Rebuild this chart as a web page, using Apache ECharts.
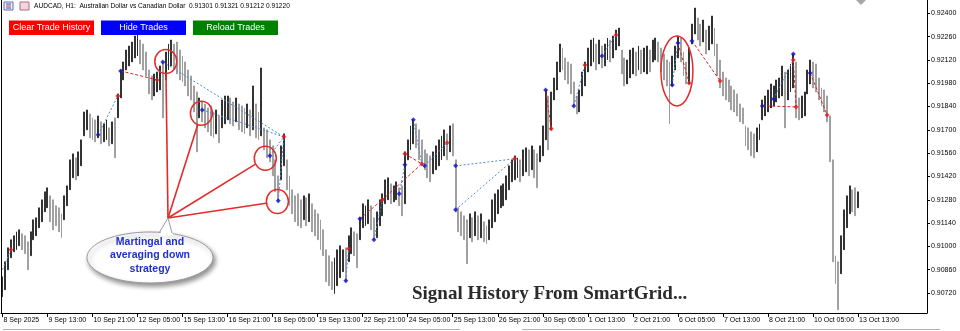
<!DOCTYPE html>
<html><head><meta charset="utf-8">
<script src="https://cdn.jsdelivr.net/npm/echarts@6/dist/echarts.min.js"></script>
<style>html,body{margin:0;padding:0;background:#fff;}#c{width:960px;height:331px;}</style>
</head><body><div id="c"></div>
<script>
// ---- DATA (prices in points: price = pts / 100000) ----
const tickLabels = ["8 Sep 2025","9 Sep 13:00","10 Sep 21:00","12 Sep 05:00","15 Sep 13:00","16 Sep 21:00","18 Sep 05:00","19 Sep 13:00","22 Sep 21:00","24 Sep 05:00","25 Sep 13:00","26 Sep 21:00","30 Sep 05:00","1 Oct 13:00","2 Oct 21:00","6 Oct 05:00","7 Oct 13:00","8 Oct 21:00","10 Oct 05:00","13 Oct 13:00"];
const priceTicks = [0.90720,0.90860,0.91000,0.91140,0.91280,0.91420,0.91560,0.91700,0.91840,0.91980,0.92120,0.92260,0.92400];
const barHigh = [
90818,90908,90992,91040,91064,91088,91100,91076,91064,91028,91088,91160,91172,91232,91280,91328,
91352,91304,91280,91244,91232,91196,91304,91364,91520,91556,91532,91568,91640,91808,91820,91796,
91772,91760,91784,91748,91736,91760,91712,91748,91772,91916,92060,92108,92180,92204,92228,92264,
92276,92240,92216,92168,92060,92024,92036,92048,92084,92108,92168,92216,92240,92216,92228,92180,
92144,92108,92060,92024,91964,91928,91892,91868,91856,91832,91844,91808,91820,91784,91880,91904,
91904,91892,91868,91892,91856,91844,91832,91856,91820,91964,91856,91808,92072,91712,91700,91640,
91604,91520,91424,91604,91676,91520,91424,91340,91304,91316,91280,91304,91292,91316,91256,91220,
91196,91160,91100,90980,90944,90908,90932,90980,91004,90980,90992,91064,91112,91088,91076,91172,
91256,91244,91280,91244,91172,91208,91280,91316,91400,91412,91376,91364,91388,91352,91364,91568,
91640,91724,91760,91736,91700,91640,91580,91556,91544,91568,91604,91640,91664,91700,91676,91724,
91736,91520,91232,91208,91184,91160,91196,91172,91208,91184,91196,91148,91124,91160,91280,91316,
91340,91364,91376,91424,91484,91520,91544,91532,91520,91580,91592,91580,91604,91580,91556,91604,
91724,91940,91904,91928,92012,92108,92216,92192,92132,92108,92096,91988,91904,91940,92048,92108,
92192,92240,92252,92216,92240,92204,92216,92252,92240,92264,92300,92312,92180,92132,92120,92180,
92192,92168,92204,92180,92192,92204,92180,92240,92252,92228,92192,92156,92120,92108,92144,92204,
92264,92252,92168,92108,92192,92336,92432,92372,92336,92360,92300,92324,92384,92312,92216,92120,
92048,92012,92000,91964,91940,91916,91856,91832,91724,91712,91688,91676,91712,91736,91880,91904,
91940,91976,91964,92000,92012,92084,92048,92060,92096,92156,92108,91892,91904,91928,92060,92120,
92108,92096,92012,91952,91940,91904,91784,91520,90944,90908,91064,91220,91304,91364,91340,91352,
91328];
const barLow = [
90698,90740,90860,90932,90968,90980,91004,90980,90956,90860,90944,91040,91064,91112,91148,91208,
91232,91148,91100,91124,91088,91052,91160,91244,91340,91412,91400,91424,91484,91664,91700,91652,
91640,91628,91652,91616,91628,91640,91604,91616,91532,91772,91892,92000,92060,92084,92108,92132,
92144,92096,92060,92024,91916,91880,91904,91928,91940,91772,92000,92060,92084,92072,92036,92000,
91988,91964,91904,91880,91808,91568,91772,91748,91712,91688,91664,91652,91676,91622,91712,91736,
91760,91736,91724,91748,91700,91688,91676,91712,91664,91700,91652,91640,91664,91580,91532,91508,
91424,91328,91268,91400,91484,91340,91244,91196,91148,91124,91112,91160,91124,91148,91088,91064,
91040,90980,90944,90788,90764,90740,90716,90764,90812,90848,90788,90908,90956,90944,90872,91040,
91112,91124,91136,91100,91040,91052,91124,91184,91256,91280,91256,91268,91280,91244,91184,91256,
91520,91580,91616,91592,91520,91484,91460,91412,91388,91436,91460,91484,91520,91544,91520,91568,
91544,91208,91088,91064,91040,90896,91052,91028,91064,91040,91052,91028,91016,91040,91112,91148,
91196,91232,91244,91280,91340,91388,91400,91412,91388,91424,91448,91424,91460,91412,91352,91508,
91544,91640,91580,91700,91880,91940,92048,92060,92000,91976,91916,91844,91796,91808,91904,91964,
92048,92084,92108,92060,92096,92072,92084,92120,92108,92132,92180,92204,92036,91964,91976,92012,
92036,92024,92060,92036,92048,92036,92048,92108,92120,92108,92048,92000,91964,91736,91964,92060,
92132,92108,92024,91976,91976,92216,92276,92240,92204,92228,92156,92180,92216,92144,92024,91952,
91904,91880,91868,91820,91808,91784,91748,91736,91604,91580,91544,91532,91568,91640,91760,91784,
91808,91832,91844,91868,91892,91904,91712,91880,91928,91952,91772,91760,91772,91784,91916,91976,
91952,91928,91880,91844,91808,91748,91508,90908,90776,90620,90836,90980,91112,91196,91208,91184,
91232];
// trade arrows: [bar index, price pts]
const buyMarks = [[34,91670],[42,92054],[57,92108],[71,91820],[95,91544],[98,91274],[122,90794],[127,91166],[132,91040],[141,91316],[143,91490],[146,91760],[150,91484],[161,91484],[161,91220],[193,91940],[203,91844],[213,92144],[238,91970],[240,92222],[245,92234],[270,91844],[274,91886],[281,92156],[287,92042]];
const sellMarks = [[3,90980],[41,91904],[55,92000],[100,91658],[123,90986],[135,91280],[143,91556],[149,91496],[158,91622],[182,91526],[195,91706],[207,92090],[218,92270],[244,91982],[255,91994],[281,92120],[282,91838],[293,91790]];
// trade links: [bar1, pts1, bar2, pts2, kind]  kind b = blue dotted, r = red dashed
const tradeLinks = [[0,90860,3,90980,'b'],[34,91670,41,91904,'b'],[42,92054,55,92000,'r'],[57,92108,100,91658,'b'],[71,91820,100,91658,'b'],[95,91544,100,91658,'b'],[98,91274,100,91658,'b'],[122,90794,123,90986,'b'],[127,91166,135,91280,'r'],[132,91040,135,91280,'b'],[135,91280,149,91496,'r'],[141,91316,143,91490,'b'],[143,91556,149,91496,'r'],[146,91760,149,91496,'b'],[150,91484,158,91622,'b'],[161,91484,182,91526,'b'],[161,91220,182,91526,'b'],[193,91940,195,91706,'r'],[203,91844,207,92090,'b'],[213,92144,218,92270,'b'],[238,91970,240,92222,'b'],[240,92222,244,91982,'r'],[245,92234,255,91994,'r'],[270,91844,282,91838,'r'],[274,91886,281,92120,'b'],[281,92120,282,91838,'r'],[287,92042,293,91790,'r']];

// ---- BUILD ----
const PT = 0.00001;
const SLOTS = 329, STEP = 16;
const cats = Array.from({length: SLOTS}, (_, i) => String(i));
const candles = barHigh.map((h, i) => {
  const l = barLow[i];
  const mid = (h + l) / 2;
  const pm = i ? (barHigh[i-1] + barLow[i-1]) / 2 : mid - 1;
  const hp = h * PT, lp = l * PT;
  return mid >= pm ? [lp, hp, lp, hp] : [hp, lp, lp, hp];
});
const FONT = 'Liberation Sans';
const series = [{
  type: 'candlestick', data: candles, barWidth: 1.4, z: 2,
  itemStyle: {color: '#000000', color0: '#8a8a8a', borderColor: '#000000', borderColor0: '#8a8a8a', borderWidth: 0.6}
}];
tradeLinks.forEach(t => {
  series.push({type: 'line', data: [[t[0], t[1]*PT], [t[2], t[3]*PT]], symbol: 'none', z: 3, silent: true,
    lineStyle: t[4] === 'b' ? {color: '#4f86d6', width: 1, type: [2, 2]} : {color: '#e02020', width: 1, type: [3, 2]}});
});
series.push({type: 'scatter', data: buyMarks.map(m => [m[0], m[1]*PT]), symbol: 'diamond', symbolSize: 5, z: 4, itemStyle: {color: '#1010c8'}});
series.push({type: 'scatter', data: sellMarks.map(m => [m[0], m[1]*PT]), symbol: 'diamond', symbolSize: 5, z: 4, itemStyle: {color: '#e81818'}});

const chart = echarts.init(document.getElementById('c'), null, {renderer: 'canvas'});
chart.setOption({
  animation: false,
  grid: {left: 1, right: 33, top: 0, bottom: 18},
  xAxis: {
    type: 'category', data: cats, boundaryGap: true,
    axisLine: {lineStyle: {color: '#000', width: 1}},
    axisTick: {show: true, alignWithLabel: true, length: 4, interval: (i) => i % STEP === 0 && i / STEP < tickLabels.length, lineStyle: {color: '#000'}},
    axisLabel: {interval: (i) => i % STEP === 0 && i / STEP < tickLabels.length, formatter: (v, i) => tickLabels[i / STEP] || '',
      align: 'left', fontSize: 7, fontFamily: FONT, color: '#000', margin: 4, padding: [0, 0, 0, 1]},
    splitLine: {show: false}
  },
  yAxis: {
    type: 'value', position: 'right', min: 0.906, max: 0.9248, scale: true,
    axisLine: {show: true, lineStyle: {color: '#000', width: 1}},
    axisTick: {show: true, length: 3, customValues: priceTicks, lineStyle: {color: '#000'}},
    axisLabel: {customValues: priceTicks, formatter: v => v.toFixed(5), fontSize: 7, fontFamily: FONT, color: '#000', margin: 4},
    splitLine: {show: false}
  },
  series
});

// ---- ANNOTATIONS ----
const P = (bar, pts) => {
  const a = chart.convertToPixel({xAxisIndex: 0, yAxisIndex: 0}, [0, pts * PT]);
  const b = chart.convertToPixel({xAxisIndex: 0, yAxisIndex: 0}, [1, pts * PT]);
  return [a[0] + bar * (b[0] - a[0]), a[1]];
};
const circles = [[58.05, 92110], [70.7, 91800], [93.4, 91530], [97.7, 91270]];
const apex = [168, 218];
const g = [];
const RED = '#e32b2b';
circles.forEach(c => {
  const [cx, cy] = P(c[0], c[1]);
  g.push({type: 'ellipse', shape: {cx, cy, rx: 11, ry: 12}, style: {fill: null, stroke: RED, lineWidth: 1.5}, z: 10});
  const dx = cx - apex[0], dy = cy - apex[1], d = Math.hypot(dx, dy);
  const r = 11.5;
  g.push({type: 'line', shape: {x1: apex[0], y1: apex[1], x2: cx - dx / d * r, y2: cy - dy / d * r}, style: {stroke: RED, lineWidth: 1.6}, z: 10});
});
{
  const [cx, cy] = P(240, 92054);
  g.push({type: 'ellipse', shape: {cx: cx - 1, cy, rx: 16, ry: 35}, style: {fill: null, stroke: RED, lineWidth: 1.5}, z: 10});
}
// callout bubble
g.push({type: 'ellipse', shape: {cx: 150, cy: 257.5, rx: 63, ry: 25.5}, style: {fill: '#ffffff', stroke: '#9a9a9a', lineWidth: 1, shadowBlur: 5, shadowColor: 'rgba(0,0,0,0.45)', shadowOffsetX: 2, shadowOffsetY: 3}, z: 20});
g.push({type: 'polygon', shape: {points: [[159, 236], [168, 218], [173, 235]]}, style: {fill: '#ffffff'}, z: 21});
g.push({type: 'polyline', shape: {points: [[159, 233], [168, 218], [172, 233]]}, style: {stroke: '#9a9a9a', lineWidth: 1, fill: null}, z: 21});
['Martingal and', 'averaging down', 'strategy'].forEach((t, i) => {
  g.push({type: 'text', x: 150, y: 242 + i * 13.5, style: {text: t, fill: '#1f2fd0', font: 'bold 10.5px "Liberation Sans"', textAlign: 'center', textVerticalAlign: 'middle'}, z: 22});
});
// title
g.push({type: 'text', x: 412, y: 294.5, style: {text: 'Signal History From SmartGrid...', fill: '#2b2b2b', font: 'bold 19px "Liberation Serif"', textAlign: 'left', textVerticalAlign: 'middle'}, z: 22});
// header
g.push({type: 'rect', shape: {x: 4, y: 2, width: 9, height: 8}, style: {fill: '#eef2fb', stroke: '#5a6fb0', lineWidth: 1}, z: 22});
[4, 6, 8].forEach(yy => g.push({type: 'line', shape: {x1: 6, y1: yy, x2: 11, y2: yy}, style: {stroke: yy === 6 ? '#d04040' : '#3050b0', lineWidth: 1}, z: 23}));
g.push({type: 'rect', shape: {x: 20, y: 2, width: 9, height: 8}, style: {fill: '#f3d6dc', stroke: '#b06a80', lineWidth: 1}, z: 22});
g.push({type: 'text', x: 34, y: 6.5, style: {text: 'AUDCAD, H1:  Australian Dollar vs Canadian Dollar  0.91301 0.91321 0.91212 0.91220', fill: '#000', font: '6.6px "Liberation Sans"', textAlign: 'left', textVerticalAlign: 'middle'}, z: 22});
// buttons
[['Clear Trade History', 9, '#ff0000'], ['Hide Trades', 101, '#0000ff'], ['Reload Trades', 193, '#008000']].forEach(b => {
  g.push({type: 'rect', shape: {x: b[1], y: 20.5, width: 85, height: 14.5}, style: {fill: b[2]}, z: 22});
  g.push({type: 'text', x: b[1] + 42.5, y: 28, style: {text: b[0], fill: '#fff', font: '9px "Liberation Sans"', textAlign: 'center', textVerticalAlign: 'middle'}, z: 23});
});
// misc frame bits
g.push({type: 'line', shape: {x1: 1.5, y1: 0, x2: 1.5, y2: 313}, style: {stroke: '#000', lineWidth: 1}, z: 5});
g.push({type: 'polygon', shape: {points: [[856, 0], [866, 0], [861, 5]]}, style: {fill: '#a8a8a8'}, z: 5});
g.push({type: 'line', shape: {x1: 3, y1: 329.5, x2: 460, y2: 329.5}, style: {stroke: '#b0b0b0', lineWidth: 1}, z: 5});
g.push({type: 'line', shape: {x1: 522, y1: 329.5, x2: 940, y2: 329.5}, style: {stroke: '#b0b0b0', lineWidth: 1}, z: 5});
chart.setOption({graphic: g});
</script>
</body></html>
